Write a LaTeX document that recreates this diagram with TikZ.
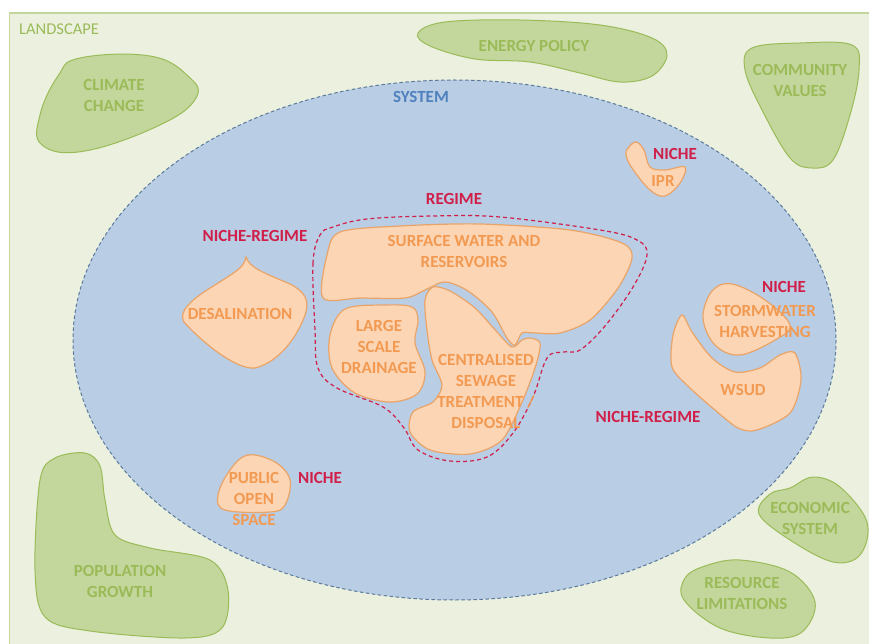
\documentclass[tikz,border=0pt]{standalone}
\usepackage{fontspec}
\setmainfont{Carlito}
\definecolor{landfill}{HTML}{EBF1DE}
\definecolor{landline}{HTML}{C3D69B}
\definecolor{blobfill}{HTML}{C3D69B}
\definecolor{blobline}{HTML}{9BBB59}
\definecolor{blobtext}{HTML}{9BBB59}
\definecolor{sysfill}{HTML}{B9CDE5}
\definecolor{sysline}{HTML}{5B7A9C}
\definecolor{systext}{HTML}{4F81BD}
\definecolor{orfill}{HTML}{FCD5B5}
\definecolor{orline}{HTML}{E9A468}
\definecolor{ortext}{HTML}{F29A52}
\definecolor{redtext}{HTML}{D0204A}
\tikzset{
  greenblob/.style={fill=blobfill, draw=blobline, line width=1pt},
  orblob/.style={fill=orfill, draw=orline, line width=1.2pt},
  txt/.style={font=\fontsize{17}{21}\selectfont\bfseries, align=center, inner sep=0pt},
  greentxt/.style={txt, text=blobtext},
  ortxt/.style={txt, text=ortext},
  redtxt/.style={txt, text=redtext},
}
\begin{document}
\begin{tikzpicture}[x=1pt,y=-1pt]
\useasboundingbox (0,0) rectangle (869,644);
% landscape
\fill[landfill] (9.5,13) rectangle (869,644);
\draw[landline, line width=1.2pt] (9.5,644) -- (9.5,13) -- (869,13);
\node[anchor=west, inner sep=0pt, text=blobtext, font=\fontsize{16.5}{20}\selectfont] (landscape) at (19,29) {LANDSCAPE};

% green blobs
\draw[greenblob] plot[smooth cycle, tension=0.7] coordinates {(80,58) (150,56) (188,76) (196,98) (160,125) (85,151) (42,145) (40,115) (58,76)};
\node[greentxt] (climate) at (114,95) {CLIMATE\\CHANGE};

\draw[greenblob] plot[smooth cycle, tension=0.6] coordinates {(418,33) (445,22) (520,20) (600,25) (652,38) (667,55) (652,76) (620,82) (580,73) (530,62) (475,59) (430,46)};
\node[greentxt] (energy) at (534,46) {ENERGY POLICY};

\draw[greenblob] plot[smooth cycle, tension=0.6] coordinates {(752,48) (800,43) (852,45) (859,70) (850,115) (833,160) (812,168) (790,158) (762,110) (745,70)};
\node[greentxt] (community) at (800,80) {COMMUNITY\\VALUES};

\draw[greenblob] plot[smooth cycle, tension=0.55] coordinates {(55,458) (85,453) (100,466) (105,500) (115,535) (150,548) (210,560) (228,590) (222,628) (185,638) (90,631) (45,617) (35,570) (40,480)};
\node[greentxt] (population) at (120,581) {POPULATION\\GROWTH};

\draw[greenblob] plot[smooth cycle, tension=0.6] coordinates {(790,488) (813,477) (840,487) (867,522) (860,555) (833,562) (790,540) (759,514) (770,494)};
\node[greentxt] (economic) at (810,518) {ECONOMIC\\SYSTEM};

\draw[greenblob] plot[smooth cycle, tension=0.6] coordinates {(705,566) (740,560) (790,572) (815,602) (802,632) (770,638) (720,628) (684,600) (685,578)};
\node[greentxt] (resource) at (742,593) {RESOURCE\\LIMITATIONS};

% system ellipse
\draw[fill=sysfill, draw=sysline, line width=1pt, dash pattern=on 3.5pt off 2.5pt] (454.5,340) ellipse [x radius=381.5, y radius=260];
\node[txt, text=systext] (system) at (421,97) {SYSTEM};

% regime boundary
\draw[redtext, line width=1.2pt, dash pattern=on 4pt off 3pt] plot[smooth cycle, tension=0.6] coordinates {(320,235) (313,263) (315,330) (318,368) (337,388) (383,407) (404,428) (418,450) (450,461) (487,457) (513,433) (533,397) (547,358) (563,352) (580,350) (605,326) (633,287) (647,255) (637,240) (600,230) (500,217) (433,216) (367,219) (333,227)};
\node[redtxt] (regime) at (454,199) {REGIME};

% orange blobs
\draw[orblob] plot[smooth cycle, tension=0.5] coordinates {(327,255) (340,232) (400,226) (480,224) (570,230) (622,243) (632,258) (618,288) (590,320) (560,333) (535,333) (522,333) (515,345) (507,338) (492,312) (468,291) (445,282) (425,290) (405,298) (360,298) (323,298)};
\node[ortxt] (surface) at (464,251) {SURFACE WATER AND\\RESERVOIRS};

\draw[orblob] plot[smooth cycle, tension=0.55] coordinates {(345,309) (385,305) (412,307) (418,320) (415,343) (425,372) (417,394) (390,402) (355,393) (332,368) (330,335)};
\node[ortxt] (drainage) at (379,347) {LARGE\\SCALE\\DRAINAGE};

\draw[orblob] plot[smooth cycle, tension=0.5] coordinates {(433,287) (450,291) (475,308) (497,332) (512,347) (522,340) (530,338) (540,343) (536,365) (522,402) (502,440) (470,454) (430,450) (410,432) (413,412) (433,402) (442,385) (432,360) (427,330) (425,300)};
\node[ortxt] (sewage) at (486,391) {CENTRALISED\\SEWAGE\\TREATMENT /\\DISPOSAL};

\draw[orblob] (246,257) .. controls (250,268) and (262,272) .. (290,284) .. controls (305,292) and (310,300) .. (305,315) .. controls (298,335) and (280,362) .. (255,368) .. controls (235,370) and (200,340) .. (184,322) .. controls (178,312) and (190,300) .. (215,285) .. controls (235,272) and (244,268) .. (246,257) -- cycle;
\node[ortxt] (desal) at (240,314) {DESALINATION};
\node[redtxt] (nrdesal) at (255,236) {NICHE-REGIME};

\draw[orblob] plot[smooth cycle, tension=0.6] coordinates {(628,148) (636,142) (644,150) (650,167) (665,170) (685,167) (680,183) (665,196) (650,190) (632,168) (626,155)};
\node[ortxt] (ipr) at (663,181) {IPR};
\node[redtxt] (nipr) at (675,154) {NICHE};

\draw[orblob] plot[smooth cycle, tension=0.6] coordinates {(712,291) (732,284) (765,300) (790,325) (775,340) (740,355) (715,345) (703,318)};
\draw[orblob] plot[smooth cycle, tension=0.5] coordinates {(682,315) (692,332) (712,358) (735,372) (760,368) (780,355) (795,353) (801,380) (790,413) (757,430) (738,428) (715,410) (690,388) (672,367) (673,335)};
\node[ortxt] (storm) at (765,321) {STORMWATER\\HARVESTING};
\node[redtxt] (nstorm) at (784,287) {NICHE};
\node[ortxt] (wsud) at (743,390) {WSUD};
\node[redtxt] (nrwsud) at (648,417) {NICHE-REGIME};

\draw[orblob] plot[smooth cycle, tension=0.6] coordinates {(248,455) (275,462) (290,480) (285,505) (270,512) (225,510) (218,495) (230,470)};
\node[ortxt] (pos) at (254,499) {PUBLIC\\OPEN\\SPACE};
\node[redtxt] (npos) at (320,478) {NICHE};
\end{tikzpicture}
\end{document}
